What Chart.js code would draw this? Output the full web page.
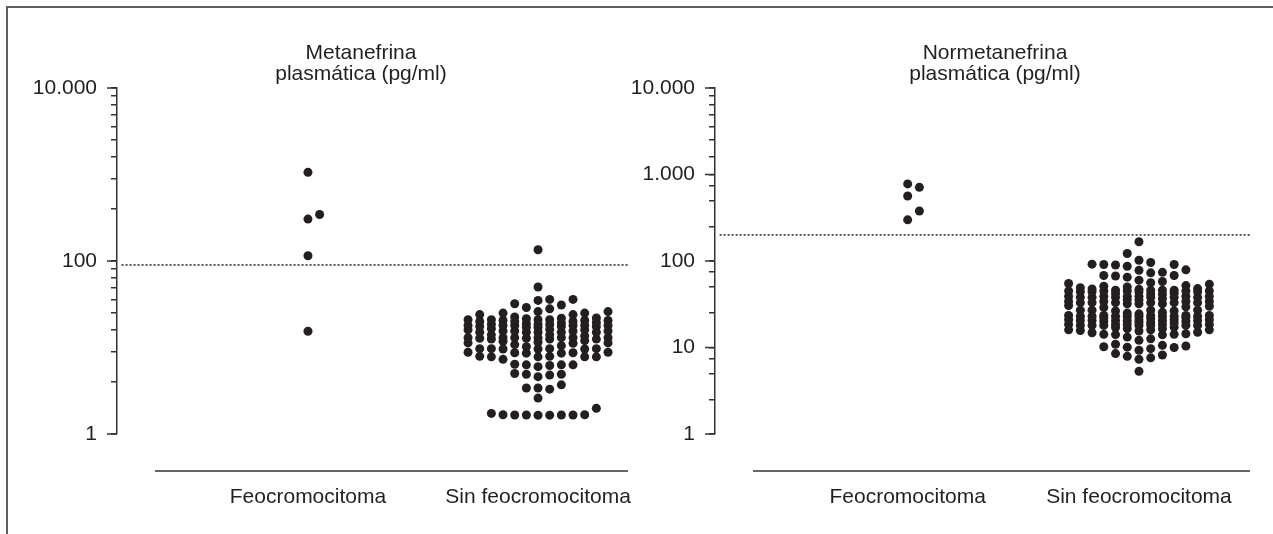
<!DOCTYPE html>
<html>
<head>
<meta charset="utf-8">
<title>Metanefrina y normetanefrina plasmáticas</title>
<script src="https://cdn.jsdelivr.net/npm/chart.js@4.4.1/dist/chart.umd.min.js"></script>
<style>
  html, body { margin: 0; padding: 0; background: #fff; overflow: hidden; }
  #wrap { position: relative; width: 1273px; height: 534px; }
  #frame { position: absolute; left: 6px; top: 6px; right: 0; bottom: 0;
           border-top: 2px solid #5e5e5e; border-left: 2px solid #5e5e5e; }
  .panel { position: absolute; top: 0; height: 534px; }
  #leftPanel { left: 0; width: 637px; }
  #rightPanel { left: 620px; width: 653px; }
</style>
</head>
<body>
<div id="wrap">
  <div id="frame"></div>
  <div class="panel" id="leftPanel"><canvas id="metaChart" width="637" height="534"></canvas></div>
  <div class="panel" id="rightPanel"><canvas id="normChart" width="653" height="534"></canvas></div>
</div>
<script>
// Categories on the x axis
const groups = ['Feocromocitoma', 'Sin feocromocitoma'];

// Metanefrina plasmática (pg/ml), one value per patient
const metaFeo = [1060, 305, 345, 115, 15.4];
const metaSin = [
  135, 50,
  36, 36, 35,
  32, 31, 29, 28, 26, 26, 25, 25, 24, 24,
  22.5, 22, 21.8,
  21, 21, 20.5, 20.5, 20, 21, 20, 21.5, 20.5, 20, 21,
  19.5, 19, 19.2,
  18.5, 18, 18, 17.5, 18, 18.5, 17.5, 18, 18, 17.5, 18.5, 18,
  17.2, 17, 16.5, 16.2,
  15.5, 15, 15.5, 15, 16, 15, 15.5, 15, 15.5, 16, 15,
  14, 14, 13.6,
  13, 13, 12.5, 13, 12.8, 13, 12.5, 13, 12.8, 13, 12.5, 13,
  12, 11.8,
  11.3, 11.5, 11.2, 11.3,
  10.8, 10.5, 10.2,
  9.7, 9.6, 9.7, 9.6, 9.7, 9.6, 9.7,
  8.8, 8.7, 8.6, 8.7, 8.8, 8.6,
  7.8, 7.9, 7.8, 7.8, 7.9, 7.8, 7.3,
  6.3, 6.4, 6.3, 6.2, 6.3, 6.0,
  4.9, 5.0, 4.9, 4.8, 4.6,
  3.7, 3.4, 3.4, 3.3, 2.6,
  1.98, 1.73, 1.66, 1.65, 1.66, 1.67, 1.66, 1.65, 1.66, 1.67
];
const metaCutoff = 90;

// Normetanefrina plasmática (pg/ml)
const normFeo = [778, 710, 565, 379, 299];
const normSin = [
  167, 122,
  102, 96, 92, 91, 91, 90, 87, 79, 78,
  74, 73, 68, 68, 67, 65, 60, 58, 56, 55, 54, 52, 51, 50, 49,
  47, 48, 47.5,
  46, 45, 44, 46, 45, 44, 45, 46, 44, 45, 46, 45, 44,
  42, 41, 42.5, 41.5,
  39, 38, 39, 38, 39, 38, 39, 38, 39, 38, 39, 38,
  36, 36.5, 35.5,
  34, 33, 34, 33, 32, 33, 34, 33, 32, 33, 34, 33, 32,
  30, 29.5, 30.5, 29,
  27, 27, 26.5, 27, 26.5, 27,
  25, 25.5, 24.5,
  23.5, 23, 23, 23.5, 23, 23.5, 23, 23, 23.5, 23, 23.5, 23, 23,
  22, 21.8, 22.2,
  21, 20.5, 20.5, 21, 20.5, 20, 20.5, 21, 20.5, 20, 20.5, 21,
  19.5, 19.2, 19.6,
  18.5, 18, 18.5, 18, 18, 18.5, 18, 18, 18.5, 18, 18, 18.5,
  17, 17.2,
  16.5, 16, 16, 15.7, 16, 16.5, 15.5,
  15, 14.8,
  14.4, 14.2, 14, 14.2, 14.1,
  13.2, 12.6, 12.1,
  10.9, 10.6, 10.4, 10.2, 10.1, 10,
  9.7, 9.3, 8.5, 8.2, 7.9, 7.6, 7.3,
  5.3
];
const normCutoff = 200;

// Tick values and labels for the two log axes
const metaMajorTicks = [1, 100, 10000];
const metaTickLabels = ['1', '100', '10.000'];
const metaMinorTicks = [4, 9, 16, 25, 36, 49, 64, 81, 400, 900, 1600, 2500, 3600, 4900, 6400, 8100];
const normMajorTicks = [1, 10, 100, 1000, 10000];
const normTickLabels = ['1', '10', '100', '1.000', '10.000'];
const normMinorTicks = [2.5, 5, 7.5, 25, 50, 75, 250, 500, 750, 1600, 2500, 3600, 4900, 6400, 8100];

const INK = '#231f20';
const AXIS = '#333333';
const FONT = "'Liberation Sans', Arial, Helvetica, sans-serif";
Chart.defaults.font.family = FONT;
Chart.defaults.color = INK;

// beeswarm: each dot goes to the slot nearest the centre that is free at its height
const SLOT_W = 0.0507;   // x units between slot centres (about one dot)
const DOT_GAP = 0.105;   // decades, about one dot height
const SLOT_ORDER = [0];
for (let k = 1; k <= 6; k++) SLOT_ORDER.push(k, -k);

function swarm(values, center) {
  const placed = {};
  return values.slice().sort((a, b) => a - b).map(v => {
    const lv = Math.log10(v);
    let best = 0, bestGap = -1;
    for (const s of SLOT_ORDER) {
      const gap = (placed[s] || []).reduce((m, p) => Math.min(m, Math.abs(p - lv)), Infinity);
      if (gap >= DOT_GAP) { best = s; break; }
      if (gap > bestGap) { best = s; bestGap = gap; }
    }
    (placed[best] = placed[best] || []).push(lv);
    return { x: center + best * SLOT_W, y: v };
  });
}

// titles, longer labelled ticks and the category baseline
const panelDecor = {
  id: 'panelDecor',
  afterDraw(chart, args, opts) {
    const { ctx, chartArea, scales } = chart;
    ctx.save();
    ctx.strokeStyle = AXIS;
    ctx.lineWidth = 1.5;
    opts.majors.forEach(v => {
      const y = scales.y.getPixelForValue(v);
      ctx.beginPath();
      ctx.moveTo(chartArea.left - 10, y);
      ctx.lineTo(chartArea.left, y);
      ctx.stroke();
    });
    const by = chartArea.bottom + 37;
    ctx.beginPath();
    ctx.moveTo(chartArea.left + 38, by);
    ctx.lineTo(chartArea.right, by);
    ctx.stroke();
    ctx.fillStyle = INK;
    ctx.font = '21px ' + FONT;
    ctx.textAlign = 'center';
    ctx.textBaseline = 'middle';
    opts.title.forEach((t, i) => ctx.fillText(t, chartArea.left + opts.titleDx, 53 + i * 21));
    ctx.restore();
  }
};

function makePanel(id, p) {
  const dots = swarm(p.feo, 1).concat(swarm(p.sin, 2));
  return new Chart(document.getElementById(id), {
    type: 'scatter',
    data: {
      datasets: [{
        data: dots,
        pointRadius: 4.5,
        pointHoverRadius: 4.5,
        pointBackgroundColor: INK,
        pointBorderWidth: 0,
        order: 0
      }, {
        type: 'line',
        data: [{ x: p.xMin + 0.02, y: p.cutoff }, { x: p.xMax, y: p.cutoff }],
        borderColor: '#222222',
        borderWidth: 1.5,
        borderDash: [2, 2],
        pointRadius: 0,
        order: 1
      }]
    },
    options: {
      responsive: false,
      animation: false,
      layout: { padding: { top: 88, right: p.padRight, left: 0, bottom: 0 } },
      plugins: {
        legend: { display: false },
        tooltip: { enabled: false },
        panelDecor: { majors: p.majors, title: p.title, titleDx: p.titleDx }
      },
      scales: {
        x: {
          type: 'linear',
          min: p.xMin,
          max: p.xMax,
          afterBuildTicks: s => { s.ticks = groups.map((g, i) => ({ value: i + 1 })); },
          afterFit: s => { s.height = 100; s.paddingLeft = 0; s.paddingRight = 0; },
          ticks: { autoSkip: false, maxRotation: 0, padding: 51, font: { size: 21 },
                   callback: v => groups[v - 1] },
          grid: { display: false, drawTicks: false },
          border: { display: false }
        },
        y: {
          type: 'logarithmic',
          min: 1,
          max: 10000,
          afterBuildTicks: s => {
            s.ticks = p.majors.concat(p.minors).sort((a, b) => a - b)
              .map(v => ({ value: v, major: p.majors.includes(v) }));
          },
          afterFit: s => { s.width = p.axisWidth; s.paddingTop = 0; s.paddingBottom = 0; },
          ticks: { autoSkip: false, padding: 14, font: { size: 21 },
                   callback: v => { const i = p.majors.indexOf(v); return i >= 0 ? p.labels[i] : ''; } },
          grid: { drawOnChartArea: false, tickLength: 6, color: AXIS, lineWidth: 1.5 },
          border: { color: AXIS, width: 1.5 }
        }
      }
    },
    plugins: [panelDecor]
  });
}

makePanel('metaChart', {
  feo: metaFeo, sin: metaSin, cutoff: metaCutoff,
  majors: metaMajorTicks, minors: metaMinorTicks, labels: metaTickLabels,
  title: ['Metanefrina', 'plasmática (pg/ml)'], titleDx: 244,
  xMin: 0.17, xMax: 2.391, axisWidth: 117, padRight: 9
});

makePanel('normChart', {
  feo: normFeo, sin: normSin, cutoff: normCutoff,
  majors: normMajorTicks, minors: normMinorTicks, labels: normTickLabels,
  title: ['Normetanefrina', 'plasmática (pg/ml)'], titleDx: 280,
  xMin: 0.167, xMax: 2.48, axisWidth: 95, padRight: 23
});
</script>
</body>
</html>
